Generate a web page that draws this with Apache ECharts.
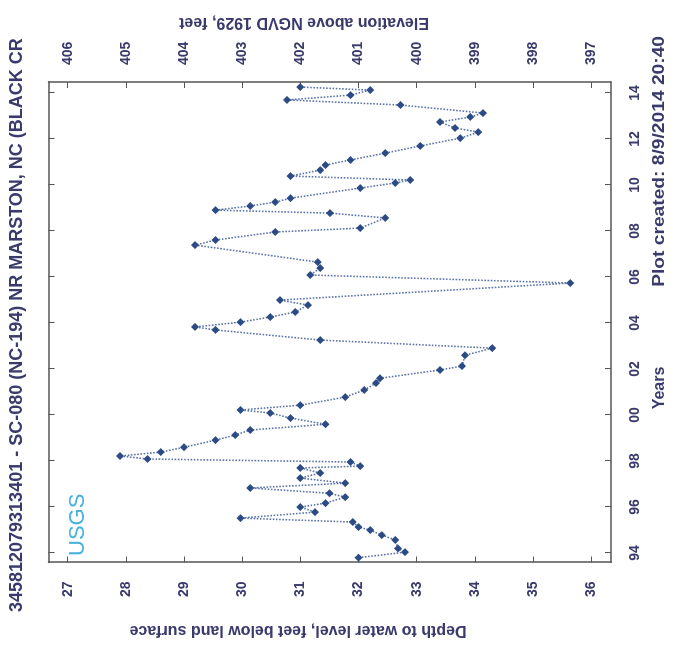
<!DOCTYPE html>
<html>
<head>
<meta charset="utf-8">
<script src="https://cdn.jsdelivr.net/npm/echarts@6/dist/echarts.min.js"></script>
<style>
  html, body { margin: 0; padding: 0; background: #ffffff; overflow: hidden; }
  #wrap { position: absolute; left: 0; top: 0; width: 673px; height: 646px; overflow: hidden; }
  #chart { position: absolute; left: 0; top: 0; width: 646px; height: 673px;
           transform-origin: 0 0; transform: translateY(646px) rotate(-90deg); }
</style>
</head>
<body>
<div id="wrap"><div id="chart"></div></div>
<script>
// ---- data (decimal years, depth to water in feet below land surface) ----
const years = [
  1993.8, 1994.04, 1994.2, 1994.57, 1994.78, 1995.0, 1995.13, 1995.35, 1995.52, 1995.78,
  1996.0, 1996.17, 1996.43, 1996.6, 1996.83, 1997.04, 1997.26, 1997.48, 1997.7, 1997.78,
  1997.96, 1998.09, 1998.22, 1998.39, 1998.6, 1998.91, 1999.13, 1999.35, 1999.6, 1999.87,
  2000.09, 2000.22, 2000.43, 2000.78, 2001.09, 2001.39, 2001.6, 2001.96, 2002.13, 2002.6,
  2002.91, 2003.26, 2003.7, 2003.83, 2004.04, 2004.26, 2004.48, 2004.78, 2005.0, 2005.74,
  2006.09, 2006.39, 2006.65, 2007.39, 2007.61, 2007.96, 2008.13, 2008.57, 2008.78, 2008.91,
  2009.09, 2009.26, 2009.43, 2009.87, 2010.09, 2010.22, 2010.39, 2010.65, 2010.87, 2011.09,
  2011.39, 2011.7, 2012.04, 2012.3, 2012.48, 2012.74, 2012.96, 2013.13, 2013.48, 2013.7,
  2013.91, 2014.13, 2014.26
];
const depths = [
  32.0, 32.8, 32.68, 32.63, 32.4, 32.2, 32.0, 31.9, 29.97, 31.25,
  31.0, 31.43, 31.77, 31.5, 30.14, 31.77, 31.0, 31.34, 31.0, 32.03,
  31.86, 28.37, 27.9, 28.6, 29.0, 29.54, 29.88, 30.14, 31.43, 30.83,
  30.48, 29.97, 31.0, 31.77, 32.1, 32.3, 32.37, 33.4, 33.78, 33.83,
  34.3, 31.34, 29.54, 29.19, 29.97, 30.48, 30.91, 31.13, 30.65, 35.64,
  31.17, 31.34, 31.3, 29.19, 29.54, 30.57, 32.03, 32.46, 31.51, 29.54,
  30.14, 30.57, 30.83, 32.03, 32.63, 32.89, 30.83, 31.34, 31.43, 31.86,
  32.46, 33.06, 33.75, 34.06, 33.66, 33.4, 33.92, 34.14, 32.72, 30.77,
  31.86, 32.2, 31.0
];
const yearTicks = [1994, 1996, 1998, 2000, 2002, 2004, 2006, 2008, 2010, 2012, 2014];
const depthTicks = [27, 28, 29, 30, 31, 32, 33, 34, 35, 36];
const elevTicks = [397, 398, 399, 400, 401, 402, 403, 404, 405, 406];
const landSurface = 433;

const titleText = '345812079313401 - SC-080 (NC-194) NR MARSTON, NC (BLACK CR';
const depthName = 'Depth to water level, feet below land surface';
const elevName = 'Elevation above NGVD 1929, feet';
const xName = 'Years';
const createdText = 'Plot created: 8/9/2014 20:40';

// ---- chart ----
const FONT = "'Liberation Sans', Arial, Helvetica, sans-serif";
const TXT = '#3a3a6c';
const AX = '#555555';
const depthMin = 26.67, depthMax = 36.34;
const yearMin = 1993.59, yearMax = 2014.48;

const chart = echarts.init(document.getElementById('chart'), null, { renderer: 'canvas', width: 646, height: 673 });

const lbl = { color: TXT, fontFamily: FONT, fontWeight: 'bold', fontSize: 14 };
const axLine = { show: true, lineStyle: { color: AX, width: 1.5 } };

chart.setOption({
  animation: false,
  backgroundColor: '#ffffff',
  grid: { left: 83.5, right: 82, top: 48.5, bottom: 62, containLabel: false },
  xAxis: [
    { type: 'value', min: yearMin, max: yearMax, position: 'bottom',
      axisLine: axLine, splitLine: { show: false },
      axisTick: { inside: true, length: 6, lineStyle: { color: AX }, customValues: yearTicks },
      axisLabel: Object.assign({ margin: 17, customValues: yearTicks,
        formatter: v => String(Math.round(v) % 100).padStart(2, '0') }, lbl) },
    { type: 'value', min: yearMin, max: yearMax, position: 'top',
      axisLine: axLine, splitLine: { show: false },
      axisTick: { inside: true, length: 6, lineStyle: { color: AX }, customValues: yearTicks },
      axisLabel: { show: false } }
  ],
  yAxis: [
    { type: 'value', inverse: true, min: depthMin, max: depthMax, position: 'left',
      axisLine: axLine, splitLine: { show: false },
      axisTick: { inside: true, length: 6, lineStyle: { color: AX }, customValues: depthTicks },
      axisLabel: Object.assign({ margin: 19, customValues: depthTicks }, lbl) },
    { type: 'value', min: landSurface - depthMax, max: landSurface - depthMin, position: 'right',
      axisLine: axLine, splitLine: { show: false },
      axisTick: { inside: true, length: 6, lineStyle: { color: AX }, customValues: elevTicks },
      axisLabel: Object.assign({ margin: 17, customValues: elevTicks }, lbl) }
  ],
  series: [{
    type: 'line',
    xAxisIndex: 0, yAxisIndex: 0,
    data: years.map((y, i) => [y, depths[i]]),
    symbol: 'diamond', symbolSize: 8, showSymbol: true,
    lineStyle: { type: 'dotted', color: '#5a74a8', width: 1.6 },
    itemStyle: { color: '#2c4a84' },
    z: 3
  }],
  graphic: [
    { type: 'text', x: 34, y: 17,
      style: { text: titleText, fill: TXT, fontFamily: FONT, fontWeight: 'bold', fontSize: 18,
               textAlign: 'left', textVerticalAlign: 'middle' } },
    { type: 'text', x: 16, y: 298, rotation: Math.PI / 2,
      style: { text: depthName, fill: TXT, fontFamily: FONT, fontWeight: 'bold', fontSize: 16,
               textAlign: 'center', textVerticalAlign: 'middle' } },
    { type: 'text', x: 624, y: 304, rotation: Math.PI / 2,
      style: { text: elevName, fill: TXT, fontFamily: FONT, fontWeight: 'bold', fontSize: 16,
               textAlign: 'center', textVerticalAlign: 'middle' } },
    { type: 'text', x: 258, y: 660,
      style: { text: xName, fill: TXT, fontFamily: FONT, fontWeight: 'bold', fontSize: 16,
               textAlign: 'center', textVerticalAlign: 'middle' } },
    { type: 'text', x: 610, y: 660, scaleX: 1.2,
      style: { text: createdText, fill: TXT, fontFamily: FONT, fontWeight: 'bold', fontSize: 16,
               textAlign: 'right', textVerticalAlign: 'middle' } },
    { type: 'text', x: 90, y: 78, z: 10,
      style: { text: 'USGS', fill: '#45b2df', fontFamily: FONT, fontWeight: 'normal', fontSize: 22,
               textAlign: 'left', textVerticalAlign: 'middle' } }
  ]
});
</script>
</body>
</html>
